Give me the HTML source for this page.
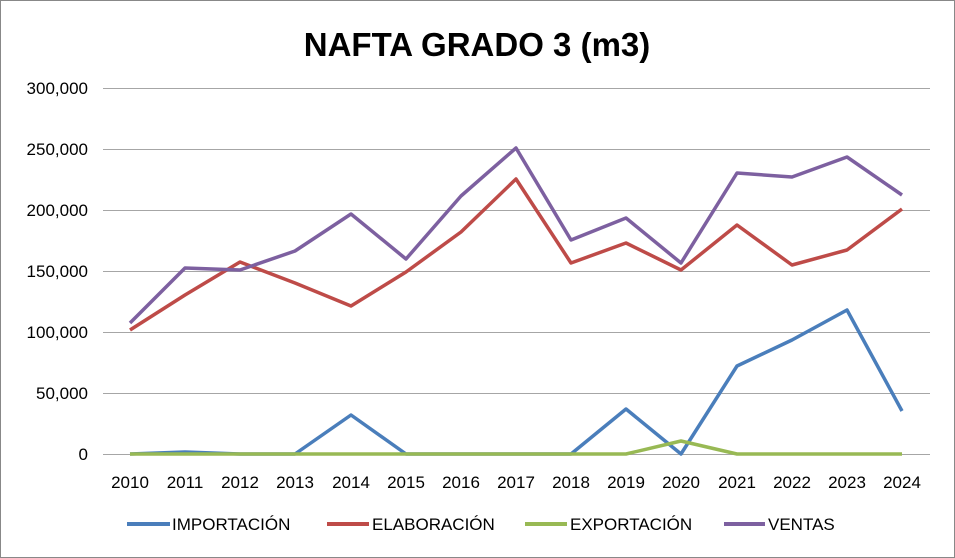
<!DOCTYPE html>
<html><head><meta charset="utf-8"><style>
html,body{margin:0;padding:0;background:#fff}
svg{display:block;font-family:"Liberation Sans Narrow","Liberation Sans",sans-serif}
</style></head><body>
<svg width="955" height="558" viewBox="0 0 955 558" xmlns="http://www.w3.org/2000/svg">
<rect x="0.5" y="0.5" width="954" height="557" fill="#fff" stroke="#888"/>
<text x="477" y="56" text-anchor="middle" font-family="Liberation Sans,sans-serif" font-weight="bold" font-size="33">NAFTA GRADO 3 (m3)</text>
<g stroke="#a6a6a6" stroke-width="1">
<line x1="103" y1="88.5" x2="930" y2="88.5"/>
<line x1="103" y1="149.5" x2="930" y2="149.5"/>
<line x1="103" y1="210.5" x2="930" y2="210.5"/>
<line x1="103" y1="271.5" x2="930" y2="271.5"/>
<line x1="103" y1="332.5" x2="930" y2="332.5"/>
<line x1="103" y1="393.5" x2="930" y2="393.5"/>
<line x1="103" y1="454.5" x2="930" y2="454.5"/>
</g>
<g font-size="17" text-anchor="end" fill="#000">
<text x="88" y="94">300,000</text>
<text x="88" y="155">250,000</text>
<text x="88" y="216">200,000</text>
<text x="88" y="277">150,000</text>
<text x="88" y="338">100,000</text>
<text x="88" y="399">50,000</text>
<text x="88" y="460">0</text>
</g>
<g font-size="17" text-anchor="middle" fill="#000">
<text x="130" y="488">2010</text><text x="185" y="488">2011</text><text x="240" y="488">2012</text><text x="295" y="488">2013</text><text x="351" y="488">2014</text><text x="406" y="488">2015</text><text x="461" y="488">2016</text><text x="516" y="488">2017</text><text x="571" y="488">2018</text><text x="626" y="488">2019</text><text x="681" y="488">2020</text><text x="737" y="488">2021</text><text x="792" y="488">2022</text><text x="847" y="488">2023</text><text x="902" y="488">2024</text>
</g>
<g fill="none" stroke-width="3.5" stroke-linejoin="round">
<polyline stroke="#4a7ebb" points="130,454 185,452 240,454 295,454 351,415 406,454 461,454 516,454 571,454 626,409 681,454 737,366 792,340 847,310 902,411"/>
<polyline stroke="#be4b48" points="130,330 185,295 240,262 295,283 351,306 406,272 461,232 516,179 571,263 626,243 681,270 737,225 792,265 847,250 902,209"/>
<polyline stroke="#98b954" points="130,454 185,454 240,454 295,454 351,454 406,454 461,454 516,454 571,454 626,454 681,441 737,454 792,454 847,454 902,454"/>
<polyline stroke="#7d60a0" points="130,323 185,268 240,270 295,251 351,214 406,259 461,196 516,148 571,240 626,218 681,263 737,173 792,177 847,157 902,195"/>
</g>
<g stroke-width="4">
<line x1="127" y1="524" x2="170" y2="524" stroke="#4a7ebb"/>
<line x1="327" y1="524" x2="369" y2="524" stroke="#be4b48"/>
<line x1="525" y1="524" x2="567" y2="524" stroke="#98b954"/>
<line x1="724" y1="524" x2="765" y2="524" stroke="#7d60a0"/>
</g>
<g font-size="17" fill="#000">
<text x="172" y="530">IMPORTACIÓN</text>
<text x="372" y="530">ELABORACIÓN</text>
<text x="570" y="530">EXPORTACIÓN</text>
<text x="768" y="530">VENTAS</text>
</g>
</svg>
</body></html>
